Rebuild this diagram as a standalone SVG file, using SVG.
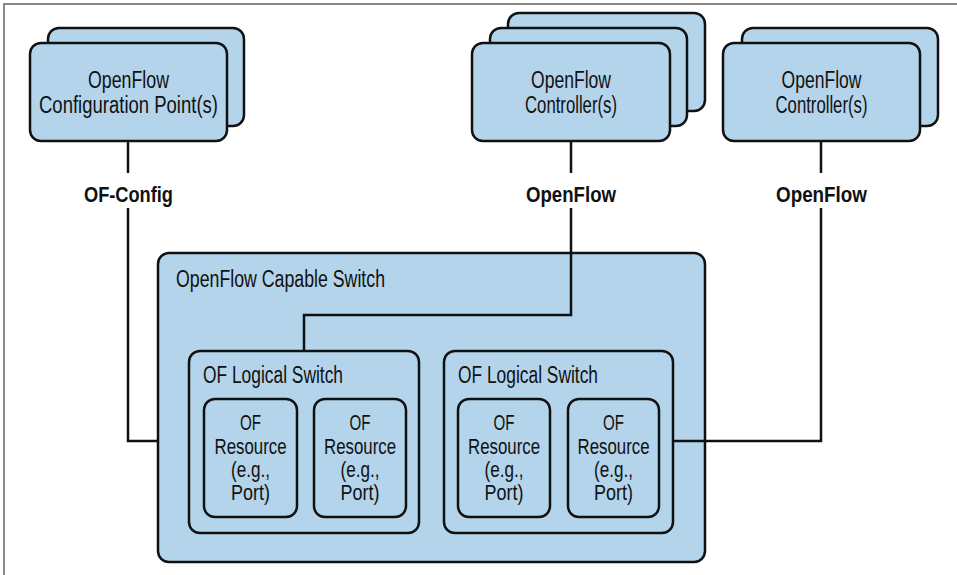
<svg xmlns="http://www.w3.org/2000/svg" width="957" height="575" viewBox="0 0 957 575">
<style>
.box{fill:#b3d4ea;stroke:#111;stroke-width:2.5}
.t{font-family:"Liberation Sans",Arial,sans-serif;font-size:23px;fill:#111}
.c{text-anchor:middle}
.r{font-size:22px}
.b{font-weight:bold;font-size:22px}
.ln{fill:none;stroke:#111;stroke-width:2.5}
</style>
<rect width="957" height="575" fill="#fff"/>
<path d="M4,575 V4 H957" fill="none" stroke="#8a8a8a" stroke-width="2"/>

<g id="config-point">
<rect class="box" x="48" y="28" width="196" height="98" rx="11"/>
<rect class="box" x="30" y="43" width="197" height="98" rx="11"/>
<text class="t c" x="128.5" y="88" textLength="81" lengthAdjust="spacingAndGlyphs">OpenFlow</text>
<text class="t c" x="128.5" y="113" textLength="179" lengthAdjust="spacingAndGlyphs">Configuration Point(s)</text>
</g>

<g id="controllers-1">
<rect class="box" x="508" y="13" width="197" height="98" rx="11"/>
<rect class="box" x="490" y="28" width="197" height="98" rx="11"/>
<rect class="box" x="472" y="43" width="198" height="98" rx="11"/>
<text class="t c" x="571" y="88" textLength="80" lengthAdjust="spacingAndGlyphs">OpenFlow</text>
<text class="t c" x="571" y="113" textLength="92" lengthAdjust="spacingAndGlyphs">Controller(s)</text>
</g>

<g id="controllers-2">
<rect class="box" x="742" y="28" width="196" height="98" rx="11"/>
<rect class="box" x="723" y="43" width="197" height="98" rx="11"/>
<text class="t c" x="821.5" y="88" textLength="80" lengthAdjust="spacingAndGlyphs">OpenFlow</text>
<text class="t c" x="821.5" y="113" textLength="92" lengthAdjust="spacingAndGlyphs">Controller(s)</text>
</g>

<g id="capable-switch">
<rect class="box" x="158" y="253" width="547" height="309" rx="11"/>
<text class="t" x="176" y="287" font-size="24" textLength="209" lengthAdjust="spacingAndGlyphs">OpenFlow Capable Switch</text>
</g>

<g id="logical-switch-1">
<rect class="box" x="189" y="351" width="230" height="182" rx="11"/>
<text class="t" x="203" y="383" textLength="140" lengthAdjust="spacingAndGlyphs">OF Logical Switch</text>
</g>
<g id="resource-1">
<rect class="box" x="204" y="399" width="93" height="118" rx="11"/>
<text class="t r c" x="250.5" y="430" textLength="21" lengthAdjust="spacingAndGlyphs">OF</text>
<text class="t r c" x="250.5" y="454" textLength="72" lengthAdjust="spacingAndGlyphs">Resource</text>
<text class="t r c" x="250.5" y="477" textLength="39" lengthAdjust="spacingAndGlyphs">(e.g.,</text>
<text class="t r c" x="250.5" y="500" textLength="39" lengthAdjust="spacingAndGlyphs">Port)</text>
</g>
<g id="resource-2">
<rect class="box" x="314" y="399" width="92" height="118" rx="11"/>
<text class="t r c" x="360" y="430" textLength="21" lengthAdjust="spacingAndGlyphs">OF</text>
<text class="t r c" x="360" y="454" textLength="72" lengthAdjust="spacingAndGlyphs">Resource</text>
<text class="t r c" x="360" y="477" textLength="39" lengthAdjust="spacingAndGlyphs">(e.g.,</text>
<text class="t r c" x="360" y="500" textLength="39" lengthAdjust="spacingAndGlyphs">Port)</text>
</g>

<g id="logical-switch-2">
<rect class="box" x="444" y="351" width="229" height="182" rx="11"/>
<text class="t" x="458" y="383" textLength="140" lengthAdjust="spacingAndGlyphs">OF Logical Switch</text>
</g>
<g id="resource-3">
<rect class="box" x="458" y="399" width="92" height="118" rx="11"/>
<text class="t r c" x="504" y="430" textLength="21" lengthAdjust="spacingAndGlyphs">OF</text>
<text class="t r c" x="504" y="454" textLength="72" lengthAdjust="spacingAndGlyphs">Resource</text>
<text class="t r c" x="504" y="477" textLength="39" lengthAdjust="spacingAndGlyphs">(e.g.,</text>
<text class="t r c" x="504" y="500" textLength="39" lengthAdjust="spacingAndGlyphs">Port)</text>
</g>
<g id="resource-4">
<rect class="box" x="568" y="399" width="91" height="118" rx="11"/>
<text class="t r c" x="613.5" y="430" textLength="21" lengthAdjust="spacingAndGlyphs">OF</text>
<text class="t r c" x="613.5" y="454" textLength="72" lengthAdjust="spacingAndGlyphs">Resource</text>
<text class="t r c" x="613.5" y="477" textLength="39" lengthAdjust="spacingAndGlyphs">(e.g.,</text>
<text class="t r c" x="613.5" y="500" textLength="39" lengthAdjust="spacingAndGlyphs">Port)</text>
</g>

<g id="connectors">
<path class="ln" d="M128,141 V173 M128,208 V441 H158"/>
<path class="ln" d="M571,141 V173 M571,208 V315 H304 V351"/>
<path class="ln" d="M821,141 V173 M821,208 V441 H673"/>
<text class="t b c" x="128.5" y="202" textLength="89" lengthAdjust="spacingAndGlyphs">OF-Config</text>
<text class="t b c" x="571" y="202" textLength="90" lengthAdjust="spacingAndGlyphs">OpenFlow</text>
<text class="t b c" x="821.5" y="202" textLength="91" lengthAdjust="spacingAndGlyphs">OpenFlow</text>
</g>
</svg>
